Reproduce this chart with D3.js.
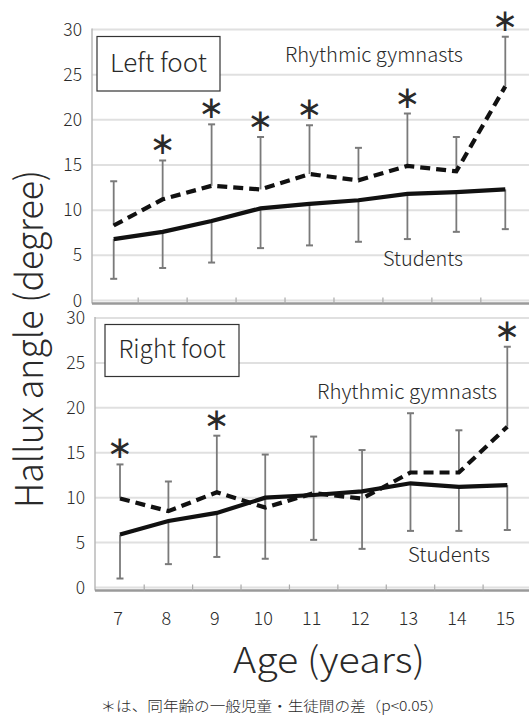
<!DOCTYPE html>
<html>
<head>
<meta charset="utf-8">
<script src="https://cdn.jsdelivr.net/npm/d3@7"></script>
<style>
  html, body { margin: 0; padding: 0; background: #fff; }
  svg { display: block; }
  text { font-family: "Noto Sans CJK JP", "Liberation Sans", sans-serif; font-weight: 300; fill: #2a2a2a; }
</style>
</head>
<body>
<svg id="chart" width="529" height="717"></svg>
<script>
// Ages (x categories)
const ages = [7, 8, 9, 10, 11, 12, 13, 14, 15];
const yTicks = [0, 5, 10, 15, 20, 25, 30];

// Left foot: means and SDs (degrees)
const leftGymMean = [8.3, 11.2, 12.7, 12.3, 14.0, 13.3, 14.9, 14.3, 23.7];
const leftGymSD   = [4.9, 4.3, 6.8, 5.8, 5.4, 3.6, 5.8, 3.8, 5.5];
const leftStuMean = [6.8, 7.6, 8.8, 10.2, 10.7, 11.1, 11.8, 12.0, 12.3];
const leftStuSD   = [4.4, 4.0, 4.6, 4.4, 4.6, 4.6, 5.0, 4.4, 4.4];
const leftSig     = [0, 1, 1, 1, 1, 0, 1, 0, 1];

// Right foot: means and SDs (degrees)
const rightGymMean = [9.9, 8.5, 10.6, 8.9, 10.5, 9.9, 12.8, 12.8, 17.9];
const rightGymSD   = [3.8, 3.3, 6.3, 5.9, 6.3, 5.4, 6.6, 4.7, 8.9];
const rightStuMean = [5.9, 7.4, 8.3, 10.0, 10.3, 10.7, 11.6, 11.2, 11.4];
const rightStuSD   = [4.9, 4.8, 4.9, 6.8, 5.0, 6.4, 5.3, 4.9, 5.0];
const rightSig     = [1, 0, 1, 0, 0, 0, 0, 0, 1];

const svg = d3.select("#chart");

function panel(cfg) {
  const g = svg.append("g");
  const x = d3.scalePoint().domain(ages).range([cfg.x0, cfg.x1]);
  const y = d3.scaleLinear().domain([0, 30]).range([cfg.yBottom, cfg.yTop]);
  const step = x.step();

  // horizontal gridlines
  g.selectAll(".grid").data(yTicks).join("line")
    .attr("x1", cfg.axisX).attr("x2", 529)
    .attr("y1", d => y(d)).attr("y2", d => y(d))
    .attr("stroke", "#e0e0e0").attr("stroke-width", 2);

  // y axis line
  g.append("line")
    .attr("x1", cfg.axisX).attr("x2", cfg.axisX)
    .attr("y1", y(30) - 1).attr("y2", y(0) + 3)
    .attr("stroke", "#b8b8b8").attr("stroke-width", 1.5);

  // x axis line with inward ticks between categories
  const axisY = y(0) + 3;
  g.append("line")
    .attr("x1", cfg.axisX).attr("x2", 529)
    .attr("y1", axisY).attr("y2", axisY)
    .attr("stroke", "#9a9a9a").attr("stroke-width", 2.5);
  g.selectAll(".xtick").data(ages.slice(0, -1)).join("line")
    .attr("x1", d => x(d) + step / 2).attr("x2", d => x(d) + step / 2)
    .attr("y1", axisY).attr("y2", axisY - 6)
    .attr("stroke", "#aaa").attr("stroke-width", 1.2);

  // y tick labels
  g.selectAll(".ylab").data(yTicks).join("text")
    .attr("x", cfg.axisX - 10).attr("y", d => y(d) + 6)
    .attr("text-anchor", "end").attr("font-size", 17.5).attr("fill", "#333")
    .text(d => d);

  // error bars: gymnasts upward, students downward
  const bars = [];
  ages.forEach((a, i) => {
    bars.push({ a, from: cfg.gym[i], to: cfg.gym[i] + cfg.gymSD[i] });
    bars.push({ a, from: cfg.stu[i], to: cfg.stu[i] - cfg.stuSD[i] });
  });
  g.selectAll(".ebar").data(bars).join("line")
    .attr("x1", d => x(d.a)).attr("x2", d => x(d.a))
    .attr("y1", d => y(d.from)).attr("y2", d => y(d.to))
    .attr("stroke", "#7a7a7a").attr("stroke-width", 1.8);
  g.selectAll(".ecap").data(bars).join("line")
    .attr("x1", d => x(d.a) - 3.5).attr("x2", d => x(d.a) + 3.5)
    .attr("y1", d => y(d.to)).attr("y2", d => y(d.to))
    .attr("stroke", "#7a7a7a").attr("stroke-width", 2);

  const line = d3.line().x((d, i) => x(ages[i])).y(d => y(d));

  // students: solid line
  g.append("path").datum(cfg.stu)
    .attr("d", line).attr("fill", "none")
    .attr("stroke", "#111").attr("stroke-width", 4.2);

  // rhythmic gymnasts: dashed line
  g.append("path").datum(cfg.gym)
    .attr("d", line).attr("fill", "none")
    .attr("stroke", "#111").attr("stroke-width", 4.2)
    .attr("stroke-dasharray", "10,6");

  // significance marks
  g.selectAll(".sig").data(ages.filter((a, i) => cfg.sig[i])).join("text")
    .attr("x", d => x(d))
    .attr("y", d => { const i = ages.indexOf(d); return y(cfg.gym[i] + cfg.gymSD[i]) - 17; })
    .attr("text-anchor", "middle").attr("dominant-baseline", "central")
    .attr("font-size", 31).style("font-family", "'DejaVu Sans', sans-serif")
    .style("font-weight", 400).attr("fill", "#111")
    .text("\u2217");

  // panel title box
  g.append("rect")
    .attr("x", cfg.box[0]).attr("y", cfg.box[1])
    .attr("width", cfg.box[2]).attr("height", cfg.box[3])
    .attr("fill", "#fff").attr("stroke", "#333").attr("stroke-width", 1.2);
  g.append("text")
    .attr("x", cfg.box[0] + cfg.box[2] / 2).attr("y", cfg.titleY)
    .attr("text-anchor", "middle").attr("font-size", 25)
    .attr("textLength", cfg.titleW).attr("lengthAdjust", "spacingAndGlyphs")
    .text(cfg.title);

  // series labels
  g.append("text")
    .attr("x", cfg.gymLabel[0]).attr("y", cfg.gymLabel[1])
    .attr("text-anchor", "middle").attr("font-size", 20)
    .attr("textLength", cfg.gymLabel[2]).attr("lengthAdjust", "spacingAndGlyphs")
    .text("Rhythmic gymnasts");
  g.append("text")
    .attr("x", cfg.stuLabel[0]).attr("y", cfg.stuLabel[1])
    .attr("text-anchor", "middle").attr("font-size", 20)
    .attr("textLength", cfg.stuLabel[2]).attr("lengthAdjust", "spacingAndGlyphs")
    .text("Students");

  return { x, y };
}

panel({
  x0: 113.7, x1: 505.3, axisX: 92, yBottom: 300.5, yTop: 29.5,
  gym: leftGymMean, gymSD: leftGymSD, stu: leftStuMean, stuSD: leftStuSD, sig: leftSig,
  box: [97, 36.5, 123, 54.5], title: "Left foot", titleY: 72, titleW: 97,
  gymLabel: [374, 61.5, 178], stuLabel: [423, 265.5, 80]
});

const bottom = panel({
  x0: 120, x1: 507.3, axisX: 95, yBottom: 587.5, yTop: 318,
  gym: rightGymMean, gymSD: rightGymSD, stu: rightStuMean, stuSD: rightStuSD, sig: rightSig,
  box: [105, 324.5, 134, 52], title: "Right foot", titleY: 357.5, titleW: 107,
  gymLabel: [407, 398.5, 180], stuLabel: [449, 561.5, 82]
});

// x tick labels (shared)
svg.selectAll(".xlab").data(ages).join("text")
  .attr("x", d => bottom.x(d) - 2).attr("y", 625)
  .attr("text-anchor", "middle").attr("font-size", 18).attr("fill", "#333")
  .text(d => d);

// axis titles
svg.append("text")
  .attr("x", 329).attr("y", 673)
  .attr("text-anchor", "middle").attr("font-size", 36)
  .attr("textLength", 192).attr("lengthAdjust", "spacingAndGlyphs")
  .text("Age (years)");

svg.append("text")
  .attr("transform", "translate(43,339) rotate(-90)")
  .attr("text-anchor", "middle").attr("font-size", 38)
  .attr("textLength", 338).attr("lengthAdjust", "spacingAndGlyphs")
  .text("Hallux angle (degree)");

// note
svg.append("text")
  .attr("x", 272).attr("y", 711)
  .attr("text-anchor", "middle").attr("font-size", 14)
  .attr("textLength", 343).attr("lengthAdjust", "spacingAndGlyphs")
  .attr("fill", "#444")
  .text("＊は、同年齢の一般児童・生徒間の差（p<0.05）");
</script>
</body>
</html>
